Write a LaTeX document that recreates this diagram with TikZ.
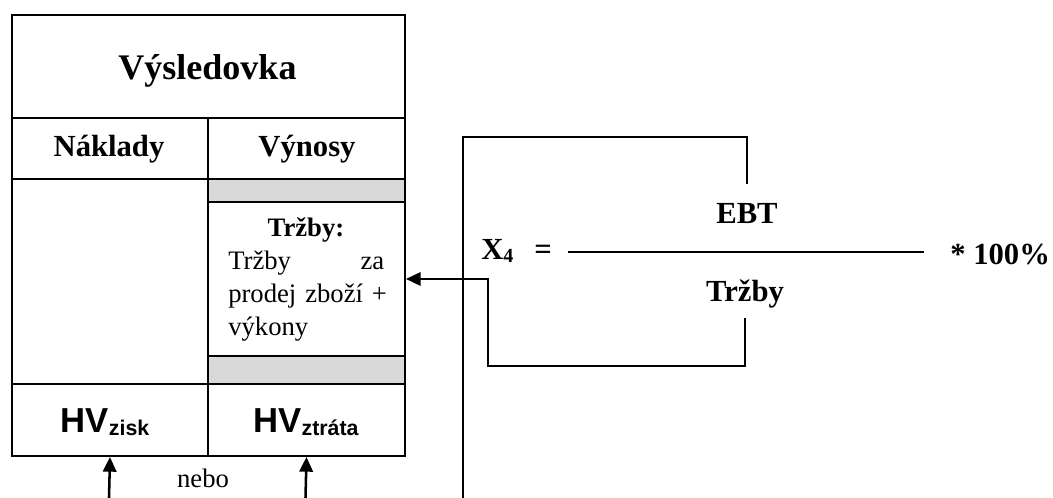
\documentclass[tikz,border=0pt]{standalone}
\usepackage{fontspec}
\setmainfont{Liberation Serif}
\newfontfamily\arialfont{Liberation Sans}
\usetikzlibrary{arrows.meta,calc}
\definecolor{bandgray}{RGB}{217,217,217}

\begin{document}
\begin{tikzpicture}[x=0.75pt,y=-0.75pt,
  cell/.style={draw,line width=1.5pt,inner sep=0pt,anchor=north west},
  band/.style={cell,fill=bandgray},
  size/.style n args={2}{minimum width=#1*0.75pt,minimum height=#2*0.75pt},
  link/.style={line width=1.9pt},
  arr/.style={link,-{Triangle[length=11pt,width=10pt]}},
  lbl/.style={inner sep=0pt,anchor=base},
  bigbold/.style={font=\fontsize{23}{27}\selectfont\bfseries},
]
\useasboundingbox (0,0) rectangle (1053,498);

% income statement table
\node[cell,size={393}{103}] (title)     at (11,14)  {};
\node[cell,size={196}{61}]  (naklady)   at (11,117) {};
\node[cell,size={197}{61}]  (vynosy)    at (207,117) {};
\node[cell,size={196}{205}] (costbody)  at (11,178) {};
\node[band,size={197}{23}]  (bandtop)   at (207,178) {};
\node[cell,size={197}{154}] (trzbycell) at (207,201) {};
\node[band,size={197}{28}]  (bandbot)   at (207,355) {};
\node[cell,size={196}{72}]  (hvzisk)    at (11,383) {};
\node[cell,size={197}{72}]  (hvztrata)  at (207,383) {};

% table texts
\node[lbl,font=\fontsize{27}{32}\selectfont\bfseries] (titletext) at (207.5,80) {Výsledovka};
\node[lbl,bigbold] (nakladytext) at (109,157) {Náklady};
\node[lbl,bigbold] (vynosytext)  at (307,157) {Výnosy};
\node[lbl,font=\fontsize{20}{24}\selectfont\bfseries] (trzbyhead) at (306,237) {Tržby:};
\node[lbl,anchor=base west,text width=117pt,align=left,
      font=\fontsize{20}{24.5}\selectfont] (trzbytext) at (228,270)
      {Tržby\hfill za\\\mbox{prodej zboží +}\\výkony};
\node[lbl,font=\arialfont\bfseries\fontsize{26}{30}\selectfont] (zisktext) at (105,433)
      {HV\raisebox{-2.25pt}{\fontsize{16}{18}\selectfont zisk}};
\node[lbl,font=\arialfont\bfseries\fontsize{26}{30}\selectfont] (ztratatext) at (306,433)
      {HV\raisebox{-2.25pt}{\fontsize{16}{18}\selectfont ztráta}};
\node[lbl,font=\fontsize{20}{24}\selectfont] (nebo) at (203,488) {nebo};

% ratio formula
\node[lbl,anchor=base west,bigbold] (x4) at (481,260)
      {X\raisebox{-2.25pt}{\fontsize{15}{18}\selectfont 4}};
\node[lbl,bigbold] (eq) at (543,260) {=};
\node[lbl,bigbold] (ebt) at (747,224) {EBT};
\node[lbl,bigbold] (trzbyf) at (745,302) {Tržby};
\node[lbl,anchor=base west,bigbold] (pct) at (950,265) {* 100\%};
\coordinate (fracL) at (568,252);
\coordinate (fracR) at (924,252);
\draw[line width=1.5pt] (fracL) -- (fracR);

% connectors
\coordinate (topleft) at (463,137);
\coordinate (busend)  at (463,498);
\coordinate (bendlow) at (488,366);
\coordinate (zisksrc) at (109,498);
\coordinate (ztratasrc) at (305.5,498);

\draw[link] ($(ebt.north)+(0,-20)$) |- (topleft) -- (busend);
\draw[arr] ($(trzbyf.south)+(0,9)$) |- (bendlow) |- (trzbycell.east);
\draw[arr] (zisksrc) -- (hvzisk.south);
\draw[arr] (ztratasrc) -- (hvztrata.south);
\end{tikzpicture}
\end{document}
